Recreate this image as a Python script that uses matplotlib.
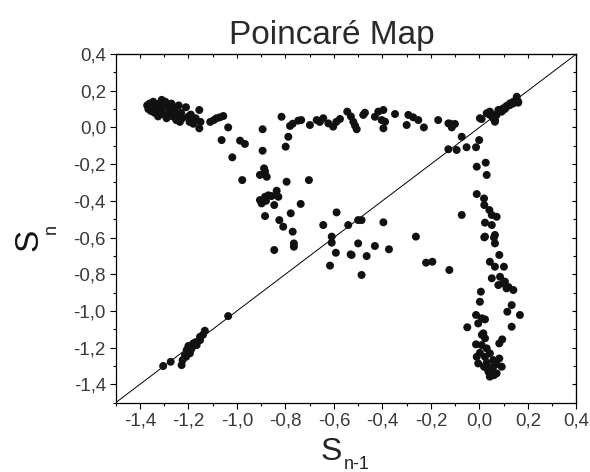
import numpy as np
import matplotlib
matplotlib.use("Agg")
import matplotlib.pyplot as plt
from matplotlib.ticker import MultipleLocator, FixedLocator, FuncFormatter

plt.rcParams["font.family"] = ["Liberation Sans", "DejaVu Sans"]

# ── DATOS ────────────────────────────────────────────────────────────────────
# rama superior izquierda (grupo denso)
top_left_x = [-1.37, -1.365, -1.36, -1.355, -1.35, -1.345, -1.34, -1.335, -1.33, -1.325,
              -1.32, -1.315, -1.31, -1.305, -1.30, -1.295, -1.29, -1.285, -1.28, -1.275,
              -1.27, -1.265, -1.26, -1.255, -1.25, -1.245, -1.24, -1.235, -1.23, -1.225,
              -1.21, -1.20, -1.195, -1.19, -1.18, -1.17, -1.155, -1.155, -1.15, -1.11,
              -1.095, -1.084, -1.07, -1.056, -1.036]
top_left_y = [0.12, 0.10, 0.13, 0.09, 0.11, 0.14, 0.08, 0.12, 0.10, 0.06,
              0.13, 0.09, 0.15, 0.11, 0.07, 0.14, 0.05, 0.12, 0.10, 0.08,
              0.13, 0.06, 0.11, 0.09, 0.04, 0.07, 0.12, 0.03, 0.08, 0.05,
              0.11, 0.06, 0.03, 0.07, 0.02, 0.05, 0.095, -0.005, 0.03, 0.03,
              0.04, 0.05, 0.055, 0.062, 0.0]

# caída intermedia
mid_x = [-1.063, -1.019, -0.987, -0.967, -0.978, -0.894, -0.894, -0.888, -0.905, -0.877,
         -0.884, -0.905, -0.884, -0.870, -0.857, -0.836, -0.829, -0.898, -0.880, -0.846,
         -0.884, -0.825, -0.809, -0.770, -0.778, -0.737, -0.795, -0.703, -0.846, -0.765,
         -0.765]
mid_y = [-0.069, -0.163, -0.072, -0.090, -0.287, -0.010, -0.127, -0.223, -0.259, -0.269,
         -0.240, -0.396, -0.378, -0.370, -0.374, -0.345, -0.378, -0.414, -0.400, -0.423,
         -0.483, -0.505, -0.541, -0.568, -0.468, -0.417, -0.296, -0.287, -0.668, -0.632,
         -0.650]

# banda horizontal cerca de 0
band_x = [-0.816, -0.781, -0.788, -0.799, -0.770, -0.747, -0.735, -0.699, -0.671, -0.658,
          -0.644, -0.623, -0.603, -0.590, -0.575, -0.545, -0.530, -0.520, -0.506, -0.513,
          -0.479, -0.472, -0.431, -0.417, -0.396, -0.403, -0.396, -0.389, -0.348, -0.300,
          -0.293, -0.273, -0.252, -0.229, -0.170, -0.128, -0.114, -0.101, -0.120]
band_y = [0.058, 0.008, -0.051, -0.105, 0.020, 0.037, 0.040, 0.013, 0.040, 0.030,
          0.050, 0.022, 0.004, 0.030, 0.046, 0.086, 0.060, 0.031, -0.010, 0.010,
          0.068, 0.080, 0.058, 0.086, 0.095, 0.040, -0.005, 0.031, 0.073, 0.013,
          0.068, 0.055, 0.040, 0.000, 0.040, 0.022, 0.000, 0.019, 0.020]

# nube inferior central
low_x = [-0.644, -0.589, -0.541, -0.500, -0.609, -0.609, -0.616, -0.592, -0.531, -0.500,
         -0.527, -0.465, -0.486, -0.431, -0.373, -0.396, -0.486, -0.262, -0.220, -0.194,
         -0.124, -0.073, -0.073, -0.128, -0.094, -0.053, -0.014, -0.001]
low_y = [-0.532, -0.463, -0.532, -0.505, -0.595, -0.628, -0.753, -0.683, -0.692, -0.632,
         -0.695, -0.701, -0.804, -0.646, -0.664, -0.517, -0.505, -0.595, -0.737, -0.732,
         -0.777, -0.477, -0.051, -0.119, -0.123, -0.108, -0.108, -0.069]

# grupo superior derecho sobre la diagonal
up_right_x = [0.002, 0.009, 0.030, 0.037, 0.043, 0.043, 0.057, 0.057, 0.064, 0.064,
              0.071, 0.078, 0.085, 0.092, 0.098, 0.105, 0.112, 0.112, 0.120, 0.126,
              0.126, 0.140, 0.140, 0.154, 0.160, 0.160]
up_right_y = [0.050, 0.046, 0.077, 0.080, 0.086, 0.068, 0.050, 0.068, 0.040, 0.031,
              0.068, 0.095, 0.095, 0.086, 0.104, 0.100, 0.113, 0.117, 0.120, 0.122,
              0.131, 0.131, 0.140, 0.167, 0.140, 0.135]

# rama vertical derecha
right_x = [-0.011, 0.026, 0.030, -0.011, 0.019, 0.020, 0.041, 0.051, 0.071, 0.023,
           0.051, 0.023, 0.064, 0.060, 0.064, 0.020, 0.082, 0.043, 0.064, 0.101,
           0.051, 0.085, 0.078, 0.098, 0.112, 0.140, 0.120, 0.105, 0.006, 0.002,
           0.133, 0.115, 0.167, 0.133, -0.014, -0.005, 0.023, 0.010, -0.050, 0.016,
           0.023, 0.010, -0.014, 0.009, 0.030, 0.094, 0.082, -0.011, 0.002, -0.005,
           0.023, 0.043, 0.057, 0.082, 0.019, 0.037, 0.043, 0.071, 0.092, 0.057,
           0.030, 0.050, 0.060, 0.030, 0.070]
right_y = [-0.214, -0.192, -0.259, -0.363, -0.387, -0.423, -0.450, -0.477, -0.487, -0.519,
           -0.532, -0.595, -0.586, -0.600, -0.632, -0.599, -0.695, -0.732, -0.759, -0.759,
           -0.822, -0.814, -0.859, -0.850, -0.877, -0.886, -0.870, -0.840, -0.895, -0.950,
           -0.968, -1.004, -1.022, -1.086, -1.022, -1.068, -1.046, -1.040, -1.089, -1.122,
           -1.149, -1.130, -1.182, -1.186, -1.204, -1.155, -1.177, -1.250, -1.228, -1.286,
           -1.250, -1.231, -1.268, -1.259, -1.304, -1.331, -1.358, -1.340, -1.304, -1.304,
           -1.282, -1.320, -1.350, -1.310, -1.290]

# grupo inferior izquierdo sobre la diagonal
diag_x = [-1.304, -1.273, -1.228, -1.224, -1.214, -1.207, -1.200, -1.187, -1.180, -1.166,
          -1.152, -1.152, -1.132, -1.194, -1.036, -1.190, -1.170, -1.210, -1.140]
diag_y = [-1.300, -1.277, -1.295, -1.268, -1.240, -1.213, -1.191, -1.204, -1.177, -1.186,
          -1.159, -1.141, -1.108, -1.231, -1.028, -1.210, -1.170, -1.250, -1.130]

x_all = top_left_x + mid_x + band_x + low_x + up_right_x + right_x + diag_x
y_all = top_left_y + mid_y + band_y + low_y + up_right_y + right_y + diag_y

lims = (-1.5, 0.4)
major_ticks = [-1.4, -1.2, -1.0, -0.8, -0.6, -0.4, -0.2, 0.0, 0.2, 0.4]

# ── FIGURA ───────────────────────────────────────────────────────────────────
fig = plt.figure(figsize=(5.9, 4.72), dpi=100)
ax = fig.add_axes([0.196, 0.1468, 0.781, 0.7388])

ax.plot(lims, lims, color="black", linewidth=0.7, zorder=2)
ax.scatter(x_all, y_all, s=33, color="#111111", edgecolors="none", zorder=3)

ax.set_xlim(lims)
ax.set_ylim(lims)

coma = FuncFormatter(lambda v, pos: f"{v:.1f}".replace(".", ","))
for axis in (ax.xaxis, ax.yaxis):
    axis.set_major_locator(FixedLocator(major_ticks))
    axis.set_minor_locator(MultipleLocator(0.1))
    axis.set_major_formatter(coma)

ax.tick_params(which="major", direction="out", length=4, width=0.8,
               labelsize=13.5, labelcolor="#3a3a3a", pad=3)
ax.tick_params(which="minor", direction="out", length=2.2, width=0.8)
for sp in ax.spines.values():
    sp.set_linewidth(0.9)

# ejes espejo (arriba y derecha) con ticks hacia adentro
top = ax.secondary_xaxis("top")
right = ax.secondary_yaxis("right")
for sec, axis in ((top, top.xaxis), (right, right.yaxis)):
    axis.set_major_locator(FixedLocator(major_ticks))
    axis.set_minor_locator(MultipleLocator(0.1))
    sec.tick_params(which="major", direction="in", length=3, width=0.8,
                    labeltop=False, labelright=False)
    sec.tick_params(which="minor", direction="in", length=2, width=0.8)

# título y etiquetas
fig.text(332 / 590, 1 - 44 / 472, "Poincaré Map", ha="center", va="baseline",
         fontsize=24, color="#2a2a2a")
fig.text(331 / 590, 1 - 460 / 472, "S", ha="center", va="baseline",
         fontsize=23, color="#222222")
fig.text(344 / 590, 1 - 469 / 472, "n-1", ha="left", va="baseline",
         fontsize=13, color="#222222")
fig.text(37 / 590, 1 - 240 / 472, "S", ha="center", va="baseline", rotation=90,
         rotation_mode="anchor", fontsize=24, color="#111111")
fig.text(56 / 590, 1 - 234 / 472, "n", ha="left", va="baseline", rotation=90,
         rotation_mode="anchor", fontsize=13, color="#222222")

plt.savefig("out.png", dpi=100)
